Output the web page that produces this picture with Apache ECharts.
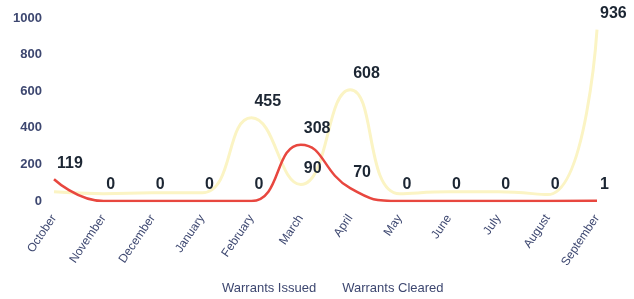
<!DOCTYPE html>
<html>
<head>
<meta charset="utf-8">
<script src="https://cdn.jsdelivr.net/npm/echarts@6/dist/echarts.min.js"></script>
<style>
  html, body { margin: 0; padding: 0; background: #fff; }
  #chart { width: 634px; height: 299px; }
</style>
</head>
<body>
<div id="chart"></div>
<script>
// months of the reporting year
var months = ['October', 'November', 'December', 'January', 'February', 'March',
  'April', 'May', 'June', 'July', 'August', 'September']
// warrants issued (pale yellow line)
var issued = [50, 40, 45, 45, 455, 90, 608, 40, 50, 50, 35, 936]
// warrants cleared (red line)
var cleared = [119, 0, 0, 0, 0, 308, 70, 0, 0, 0, 0, 1]
// months whose issued value gets a label
var issuedLabelled = [false, false, false, false, true, true, true, false, false, false, false, true]
var yTicks = [0, 200, 400, 600, 800, 1000]

var chart = echarts.init(document.getElementById('chart'))

var labelStyle = {
  show: true,
  position: 'top',
  align: 'left',
  distance: 8,
  offset: [3, 0],
  color: '#1c2633',
  fontSize: 16,
  fontWeight: 'bold',
  fontFamily: 'Liberation Sans'
}

chart.setOption({
  animation: false,
  grid: {
    left: 54,
    right: 37,
    top: 18,
    bottom: 98
  },
  legend: {
    data: ['Warrants Issued', 'Warrants Cleared'],
    top: 277,
    left: 211,
    itemWidth: 0,
    itemHeight: 0,
    itemGap: 20,
    textStyle: {
      color: '#3d4770',
      fontSize: 13,
      fontFamily: 'Liberation Sans'
    }
  },
  xAxis: {
    type: 'category',
    data: months,
    boundaryGap: false,
    axisLine: { show: false },
    axisTick: { show: false },
    axisLabel: {
      rotate: 56,
      margin: 15,
      interval: 0,
      color: '#3d4770',
      fontSize: 12,
      fontFamily: 'Liberation Sans'
    }
  },
  yAxis: {
    type: 'value',
    min: yTicks[0],
    max: yTicks[yTicks.length - 1],
    interval: yTicks[1] - yTicks[0],
    splitLine: { show: false },
    axisLine: { show: false },
    axisTick: { show: false },
    axisLabel: {
      margin: 12,
      color: '#3d4770',
      fontSize: 13,
      fontWeight: 'bold',
      fontFamily: 'Liberation Sans',
      formatter: function (v) { return String(v) }
    }
  },
  series: [
    {
      name: 'Warrants Issued',
      type: 'line',
      smooth: true,
      symbol: 'circle',
      symbolSize: 0,
      showSymbol: true,
      itemStyle: { color: '#f7eea8' },
      lineStyle: { color: '#fbf4c4', width: 3 },
      label: labelStyle,
      data: issued.map(function (v, i) {
        return { value: v, label: { show: issuedLabelled[i] } }
      }),
      z: 1
    },
    {
      name: 'Warrants Cleared',
      type: 'line',
      smooth: true,
      symbol: 'circle',
      symbolSize: 0,
      showSymbol: true,
      itemStyle: { color: '#e8473f' },
      lineStyle: { color: '#e8473f', width: 2.5 },
      label: labelStyle,
      data: cleared,
      z: 2
    }
  ]
})
</script>
</body>
</html>
